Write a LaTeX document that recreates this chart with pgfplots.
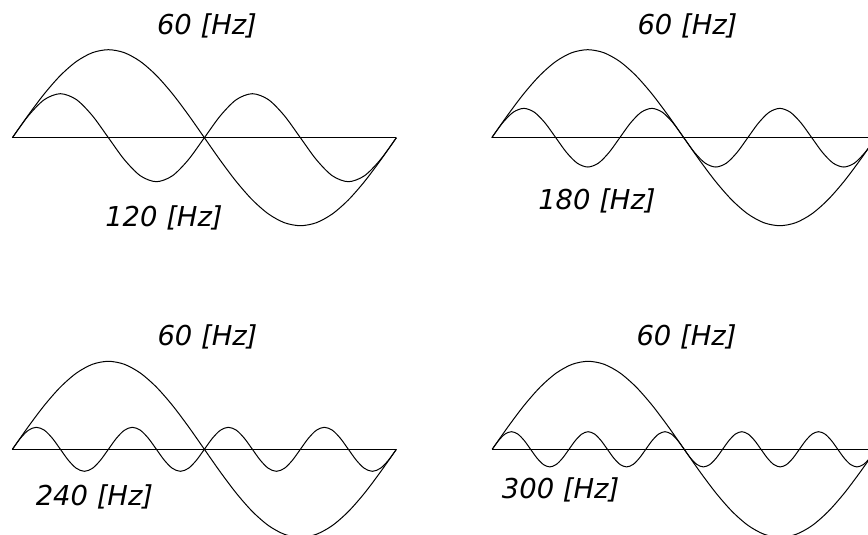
\documentclass[border=0pt]{standalone}
\usepackage{fontspec}
\setmainfont{DejaVu Sans}
\usepackage{pgfplots}
\pgfplotsset{compat=1.18}

% one panel: 60 Hz wave plus a harmonic, both over one 60 Hz period (degrees)
\pgfplotsset{
  wave/.style={hide axis, clip=false, anchor=origin,
    x=0.5333pt, y=44pt, xmin=0, xmax=360, ymin=-1, ymax=1},
  trace/.style={black, line width=0.5pt, no markers, smooth},
}
\newcommand{\hz}[1]{{\fontsize{13.7}{16}\selectfont\itshape #1~[Hz]}}

\begin{document}
\begin{tikzpicture}
\useasboundingbox (0,0) rectangle (434pt,-267.5pt);
\clip (0,0) rectangle (434pt,-267.5pt);

% ---- 120 Hz
\begin{axis}[wave, at={(6.2pt,-68.85pt)}]
\addplot[trace] coordinates {
 (0,0) (15,.2588) (30,.5) (45,.7071) (60,.866) (75,.9659) (90,1) (105,.9659) (120,.866)
 (135,.7071) (150,.5) (165,.2588) (180,0) (195,-.2588) (210,-.5) (225,-.7071) (240,-.866)
 (255,-.9659) (270,-1) (285,-.9659) (300,-.866) (315,-.7071) (330,-.5) (345,-.2588) (360,0)};
\addplot[trace] coordinates {
 (0,0) (15,.25) (30,.433) (45,.5) (60,.433) (75,.25) (90,0) (105,-.25) (120,-.433)
 (135,-.5) (150,-.433) (165,-.25) (180,0) (195,.25) (210,.433) (225,.5) (240,.433)
 (255,.25) (270,0) (285,-.25) (300,-.433) (315,-.5) (330,-.433) (345,-.25) (360,0)};
\addplot[black, line width=0.5pt] coordinates {(0,0) (360,0)};
\end{axis}

% ---- 180 Hz
\begin{axis}[wave, at={(245.9pt,-68.85pt)}]
\addplot[trace] coordinates {
 (0,0) (15,.2588) (30,.5) (45,.7071) (60,.866) (75,.9659) (90,1) (105,.9659) (120,.866)
 (135,.7071) (150,.5) (165,.2588) (180,0) (195,-.2588) (210,-.5) (225,-.7071) (240,-.866)
 (255,-.9659) (270,-1) (285,-.9659) (300,-.866) (315,-.7071) (330,-.5) (345,-.2588) (360,0)};
\addplot[trace] coordinates {
 (0,0) (10,.1667) (20,.2887) (30,.3333) (40,.2887) (50,.1667) (60,0) (70,-.1667) (80,-.2887)
 (90,-.3333) (100,-.2887) (110,-.1667) (120,0) (130,.1667) (140,.2887) (150,.3333) (160,.2887)
 (170,.1667) (180,0) (190,-.1667) (200,-.2887) (210,-.3333) (220,-.2887) (230,-.1667) (240,0)
 (250,.1667) (260,.2887) (270,.3333) (280,.2887) (290,.1667) (300,0) (310,-.1667) (320,-.2887)
 (330,-.3333) (340,-.2887) (350,-.1667) (360,0)};
\addplot[black, line width=0.5pt] coordinates {(0,0) (360,0)};
\end{axis}

% ---- 240 Hz
\begin{axis}[wave, at={(6.2pt,-224.65pt)}]
\addplot[trace] coordinates {
 (0,0) (15,.2588) (30,.5) (45,.7071) (60,.866) (75,.9659) (90,1) (105,.9659) (120,.866)
 (135,.7071) (150,.5) (165,.2588) (180,0) (195,-.2588) (210,-.5) (225,-.7071) (240,-.866)
 (255,-.9659) (270,-1) (285,-.9659) (300,-.866) (315,-.7071) (330,-.5) (345,-.2588) (360,0)};
\addplot[trace] coordinates {
 (0,0) (7.5,.125) (15,.2165) (22.5,.25) (30,.2165) (37.5,.125) (45,0) (52.5,-.125) (60,-.2165)
 (67.5,-.25) (75,-.2165) (82.5,-.125) (90,0)
 (97.5,.125) (105,.2165) (112.5,.25) (120,.2165) (127.5,.125) (135,0) (142.5,-.125) (150,-.2165)
 (157.5,-.25) (165,-.2165) (172.5,-.125) (180,0)
 (187.5,.125) (195,.2165) (202.5,.25) (210,.2165) (217.5,.125) (225,0) (232.5,-.125) (240,-.2165)
 (247.5,-.25) (255,-.2165) (262.5,-.125) (270,0)
 (277.5,.125) (285,.2165) (292.5,.25) (300,.2165) (307.5,.125) (315,0) (322.5,-.125) (330,-.2165)
 (337.5,-.25) (345,-.2165) (352.5,-.125) (360,0)};
\addplot[black, line width=0.5pt] coordinates {(0,0) (360,0)};
\end{axis}

% ---- 300 Hz
\begin{axis}[wave, at={(246.1pt,-224.65pt)}]
\addplot[trace] coordinates {
 (0,0) (15,.2588) (30,.5) (45,.7071) (60,.866) (75,.9659) (90,1) (105,.9659) (120,.866)
 (135,.7071) (150,.5) (165,.2588) (180,0) (195,-.2588) (210,-.5) (225,-.7071) (240,-.866)
 (255,-.9659) (270,-1) (285,-.9659) (300,-.866) (315,-.7071) (330,-.5) (345,-.2588) (360,0)};
\addplot[trace] coordinates {
 (0,0) (6,.1) (12,.1732) (18,.2) (24,.1732) (30,.1) (36,0) (42,-.1) (48,-.1732) (54,-.2) (60,-.1732) (66,-.1)
 (72,0) (78,.1) (84,.1732) (90,.2) (96,.1732) (102,.1) (108,0) (114,-.1) (120,-.1732) (126,-.2) (132,-.1732) (138,-.1)
 (144,0) (150,.1) (156,.1732) (162,.2) (168,.1732) (174,.1) (180,0) (186,-.1) (192,-.1732) (198,-.2) (204,-.1732) (210,-.1)
 (216,0) (222,.1) (228,.1732) (234,.2) (240,.1732) (246,.1) (252,0) (258,-.1) (264,-.1732) (270,-.2) (276,-.1732) (282,-.1)
 (288,0) (294,.1) (300,.1732) (306,.2) (312,.1732) (318,.1) (324,0) (330,-.1) (336,-.1732) (342,-.2) (348,-.1732) (354,-.1)
 (360,0)};
\addplot[black, line width=0.5pt] coordinates {(0,0) (360,0)};
\end{axis}

% labels
\node[anchor=base] at (103.5pt,-17.5pt) {\hz{60}};
\node[anchor=base] at (82pt,-113.5pt) {\hz{120}};
\node[anchor=base] at (343.75pt,-17.5pt) {\hz{60}};
\node[anchor=base] at (298.5pt,-105pt) {\hz{180}};
\node[anchor=base] at (103.75pt,-172.85pt) {\hz{60}};
\node[anchor=base] at (47.25pt,-252.5pt) {\hz{240}};
\node[anchor=base] at (343.25pt,-172.85pt) {\hz{60}};
\node[anchor=base] at (280.3pt,-249.2pt) {\hz{300}};
\end{tikzpicture}
\end{document}
